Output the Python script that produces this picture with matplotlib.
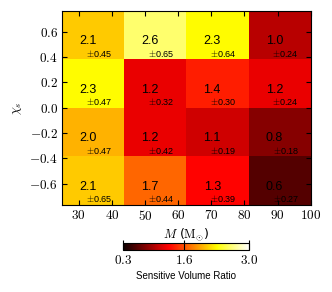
import matplotlib
matplotlib.use('Agg')
import matplotlib.pyplot as plt
import numpy as np

plt.rcParams['mathtext.fontset'] = 'cm'

# bin edges: total mass M (Msun) and effective spin chi_s
mass_edges = [25, 43.75, 62.5, 81.25, 100]
chi_edges = [-0.77, -0.385, 0.0, 0.385, 0.77]

# sensitive volume ratio, rows from bottom (chi < 0) to top
ratio = [
    [2.1, 1.7, 1.3, 0.6],
    [2.0, 1.2, 1.1, 0.8],
    [2.3, 1.2, 1.4, 1.2],
    [2.1, 2.6, 2.3, 1.0],
]
ratio_err = [
    [0.65, 0.44, 0.39, 0.27],
    [0.47, 0.42, 0.19, 0.18],
    [0.47, 0.32, 0.30, 0.24],
    [0.45, 0.65, 0.64, 0.24],
]

x_ticks = [30, 40, 50, 60, 70, 80, 90, 100]
y_ticks = [-0.6, -0.4, -0.2, 0.0, 0.2, 0.4, 0.6]
cbar_ticks = [0.3, 1.6, 3.0]

fig = plt.figure(figsize=(3.32, 2.92), dpi=100)
ax = fig.add_axes([0.187, 0.298, 0.749, 0.666])

mesh = ax.pcolormesh(mass_edges, chi_edges, np.array(ratio), cmap='hot', vmin=0.3, vmax=3.0)

# value in the cell, uncertainty below it
for i in range(len(chi_edges) - 1):
    yc = (chi_edges[i] + chi_edges[i + 1]) / 2
    for j in range(len(mass_edges) - 1):
        xc = (mass_edges[j] + mass_edges[j + 1]) / 2
        ax.text(xc - 1.6, yc - 0.05, f'{ratio[i][j]:.1f}', ha='center', va='center',
                fontsize=9, family='Liberation Sans')
        ax.text(xc + 1.8, yc - 0.145, '$\\pm$' + f'{ratio_err[i][j]:.2f}', ha='center',
                va='center', fontsize=6.5, family='Liberation Sans')

ax.set_xlim(25, 100)
ax.set_ylim(-0.77, 0.77)
ax.set_xticks(x_ticks)
ax.set_xticklabels([f'${v}$' for v in x_ticks])
ax.set_yticks(y_ticks)
ax.set_yticklabels([f'${v:.1f}$' for v in y_ticks])
ax.tick_params(direction='in', length=3.5, width=0.8, top=True, right=True, labelsize=9.5, pad=3)
ax.set_xlabel('$M$ ($\\mathrm{M}_{\\odot}$)', fontsize=9, labelpad=2)
ax.set_ylabel('$\\chi_s$', fontsize=9, labelpad=4)

cax = fig.add_axes([123 / 332, 1 - 250 / 292, 126 / 332, 7 / 292])
cb = fig.colorbar(mesh, cax=cax, orientation='horizontal', ticks=cbar_ticks)
cb.ax.set_xticklabels([f'${v:.1f}$' for v in cbar_ticks])
cb.ax.tick_params(direction='in', length=7, width=0.8, labelsize=9.5, pad=3)
cb.outline.set_linewidth(0.8)
cb.set_label('Sensitive Volume Ratio', fontsize=7, family='Liberation Sans', labelpad=3)

fig.savefig('out.png', dpi=100)
